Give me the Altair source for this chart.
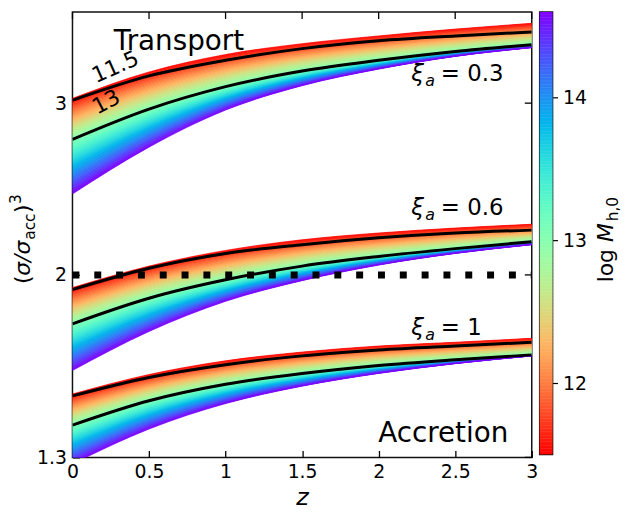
import altair as alt
import numpy as np
import pandas as pd

# ---------------- data ----------------
z = [0.0, 0.5, 1.0, 1.5, 2.0, 2.5, 3.0]

# xi_a = 0.3 : top edge (log M = 11.5 colour), black 11.5 line, black 13 line, bottom edge (log M ~ 14.6)
top_03 = [3.034, 3.229, 3.365, 3.452, 3.516, 3.573, 3.622]
m115_03 = [3.020, 3.199, 3.319, 3.412, 3.476, 3.516, 3.549]
m13_03 = [2.754, 2.958, 3.119, 3.236, 3.319, 3.389, 3.444]
bot_03 = [2.421, 2.704, 2.951, 3.126, 3.251, 3.350, 3.420]
# xi_a = 0.6
top_06 = [1.941, 2.042, 2.119, 2.173, 2.208, 2.234, 2.254]
m115_06 = [1.932, 2.032, 2.104, 2.148, 2.183, 2.208, 2.223]
m13_06 = [1.782, 1.893, 1.977, 2.042, 2.089, 2.128, 2.163]
bot_06 = [1.596, 1.750, 1.879, 1.973, 2.047, 2.104, 2.148]
# xi_a = 1
top_10 = [1.510, 1.581, 1.633, 1.667, 1.691, 1.706, 1.722]
m115_10 = [1.503, 1.570, 1.618, 1.652, 1.675, 1.691, 1.706]
m13_10 = [1.403, 1.486, 1.545, 1.585, 1.615, 1.637, 1.656]
bot_10 = [1.280, 1.390, 1.476, 1.538, 1.585, 1.622, 1.652]

# colour bar range (log M_h,0)
M_LO, M_MID, M_HI = 11.5, 13.0, 14.6
cbar_ticks = [12, 13, 14]

x_ticks = [0, 0.5, 1, 1.5, 2, 2.5, 3]
y_ticks = [1.3, 2, 3]
y_domain = [1.3, 3.72]
ref_level = 2.0

# annotations (data coordinates)
note_text = ["Transport", "Accretion"]
note_z = [0.27, 2.847]
note_v = [3.404, 1.349]
xi_vals = ["0.3", "0.6", "1"]
xi_z = [2.406, 2.406, 2.406]
xi_v = [3.163, 2.302, 1.734]
mass_text = ["11.5", "13"]
mass_z = [0.28, 0.22]
mass_v = [3.266, 3.007]
mass_angle = [336, 332]
ytitle_z = -0.275
ytitle_v = 2.168
ctitle_m = 13.12

FONT = "DejaVu Sans"
W, H = 463, 449
TICK = 7


def rainbow_r(m):
    x = 1.0 - (m - M_LO) / (M_HI - M_LO)
    r = min(1.0, max(0.0, abs(2 * x - 0.5)))
    g = min(1.0, max(0.0, np.sin(np.pi * x)))
    b = min(1.0, max(0.0, np.cos(np.pi * x / 2)))
    return "#%02x%02x%02x" % (int(round(r * 255)), int(round(g * 255)), int(round(b * 255)))


def level(top, mid, bot, m):
    out = []
    for a, b, c in zip(top, mid, bot):
        la, lb, lc = np.log10(a), np.log10(b), np.log10(c)
        if m <= M_MID:
            l = la + (m - M_LO) / (M_MID - M_LO) * (lb - la)
        else:
            l = lb + (m - M_MID) / (M_HI - M_MID) * (lc - lb)
        out.append(10 ** l)
    return out


bands = [("b03", top_03, m13_03, bot_03), ("b06", top_06, m13_06, bot_06), ("b10", top_10, m13_10, bot_10)]
nlev = 63
mlev = [M_LO + (M_HI - M_LO) * i / (nlev - 1) for i in range(nlev)]
rows = []
for name, tp, md, bt in bands:
    levs = [level(tp, md, bt, m) for m in mlev]
    for i in range(nlev - 1):
        col = rainbow_r(0.5 * (mlev[i] + mlev[i + 1]))
        for j, zz in enumerate(z):
            rows.append({"z": zz, "v": levs[i][j], "v2": levs[i + 1][j], "col": col, "sid": f"{name}_{i:03d}"})
stripes = pd.DataFrame(rows)

lrows = []
for name, arr in [("a03", m115_03), ("c03", m13_03), ("a06", m115_06), ("c06", m13_06), ("a10", m115_10), ("c10", m13_10)]:
    for zz, vv in zip(z, arr):
        lrows.append({"z": zz, "v": vv, "lid": name})
blines = pd.DataFrame(lrows)

# ---------------- scales / axes ----------------
XS = alt.Scale(domain=[0, 3], nice=False, zero=False)
YS = alt.Scale(type="log", domain=y_domain, nice=False)
common_axis = dict(grid=False, domain=False, ticks=True, tickSize=TICK, offset=-TICK, tickColor="black",
                   tickWidth=1.3, labelFont=FONT, labelFontSize=19, labelColor="black", labelFlush=False,
                   minExtent=0)
xaxis = alt.Axis(orient="bottom", values=x_ticks, format="~g", labelPadding=5, title="z",
                 titleFont=FONT, titleFontSize=24, titleFontStyle="italic", titleFontWeight="normal",
                 titleColor="black", titlePadding=4, **common_axis)
yaxis = alt.Axis(orient="left", values=y_ticks, format="~g", labelPadding=6, title=None, **common_axis)


def X(f="z"):
    return alt.X(f"{f}:Q", scale=XS, axis=xaxis)


def Y(f="v"):
    return alt.Y(f"{f}:Q", scale=YS, axis=yaxis)


area = alt.Chart(stripes).mark_area(interpolate="monotone", clip=True, strokeWidth=0.7, opacity=1).encode(
    x=X(), y=Y(), y2=alt.Y2("v2:Q"),
    color=alt.Color("col:N", scale=None), stroke=alt.Stroke("col:N", scale=None), detail="sid:N")

lines = alt.Chart(blines).mark_line(interpolate="monotone", clip=True, color="black", strokeWidth=3).encode(
    x=X(), y=Y(), detail="lid:N")

dotted = alt.Chart(pd.DataFrame({"z": [0.0], "z2": [3.0], "v": [ref_level]})).mark_rule(
    color="black", strokeWidth=7, strokeDash=[7, 15], strokeCap="butt").encode(x=X(), x2="z2:Q", y=Y())

# inward ticks on the top and right frame edges
top_ticks = alt.Chart(pd.DataFrame({"z": x_ticks})).mark_rule(color="black", strokeWidth=1.3).encode(
    x=X(), y=alt.value(0), y2=alt.value(TICK))
right_ticks = alt.Chart(pd.DataFrame({"v": y_ticks})).mark_rule(color="black", strokeWidth=1.3).encode(
    y=Y(), x=alt.value(W - TICK), x2=alt.value(W))


def text_layer(df, **kw):
    base = dict(font=FONT, color="black", baseline="alphabetic")
    base.update(kw)
    return alt.Chart(df).mark_text(**base).encode(x=X(), y=Y(), text="t:N")


notes = text_layer(pd.DataFrame({"z": note_z[:1], "v": note_v[:1], "t": note_text[:1]}), fontSize=28, align="left")
notes2 = text_layer(pd.DataFrame({"z": note_z[1:], "v": note_v[1:], "t": note_text[1:]}), fontSize=28, align="right")

xi_df = pd.DataFrame({"z": xi_z, "v": xi_v, "t": ["= " + s for s in xi_vals]})
xi_eq = text_layer(xi_df, fontSize=23, align="left")
xi_sym = text_layer(pd.DataFrame({"z": xi_z, "v": xi_v, "t": ["ξ"] * 3}), fontSize=23, align="right",
                    fontStyle="italic", dx=-17)
xi_sub = text_layer(pd.DataFrame({"z": xi_z, "v": xi_v, "t": ["a"] * 3}), fontSize=16, align="right",
                    fontStyle="italic", dx=-6, dy=5)

mass_layers = [text_layer(pd.DataFrame({"z": [mass_z[i]], "v": [mass_v[i]], "t": [mass_text[i]]}),
                          fontSize=22, align="center", baseline="middle", angle=mass_angle[i])
               for i in range(len(mass_text))]

yt = pd.DataFrame({"z": [ytitle_z], "v": [ytitle_v]})
yt_a = text_layer(yt.assign(t="σ/σ"), fontSize=22, angle=270, align="right", fontStyle="italic")
yt_p = text_layer(yt.assign(t="("), fontSize=22, angle=270, align="right", dx=-35)
yt_s = text_layer(yt.assign(t="acc"), fontSize=15.5, angle=270, align="left", dx=1, dy=5)
yt_c = text_layer(yt.assign(t=")"), fontSize=22, angle=270, align="left", dx=28)
yt_e = text_layer(yt.assign(t="3"), fontSize=15.5, angle=270, align="left", dx=37, dy=-9)

plot = alt.layer(area, lines, dotted, top_ticks, right_ticks, notes, notes2, xi_eq, xi_sym, xi_sub,
                 *mass_layers, yt_a, yt_p, yt_s, yt_c, yt_e).properties(width=W, height=H)

# ---------------- colour bar ----------------
ncb = 310
cb_m = [M_LO + (M_HI - M_LO) * i / ncb for i in range(ncb + 1)]
cb = pd.DataFrame({"m0": cb_m[:-1], "m1": [min(M_HI, mm + (M_HI - M_LO) / ncb * 1.3) for mm in cb_m[:-1]],
                   "col": [rainbow_r(mm + 0.5 * (M_HI - M_LO) / ncb) for mm in cb_m[:-1]]})
CS = alt.Scale(domain=[M_LO, M_HI], nice=False, zero=False)
caxis = alt.Axis(orient="right", values=cbar_ticks, format="d", grid=False, domain=False, tickSize=5,
                 tickColor="black", tickWidth=1.2, labelFont=FONT, labelFontSize=19, labelColor="black",
                 labelPadding=5, labelFlush=False, title=None, minExtent=0)
cbar_rect = alt.Chart(cb).mark_rect().encode(
    x=alt.value(0), x2=alt.value("width"),
    y=alt.Y("m0:Q", scale=CS, axis=caxis), y2="m1:Q",
    color=alt.Color("col:N", scale=None))


def ctext(t, **kw):
    base = dict(font=FONT, color="black", baseline="alphabetic", angle=270)
    base.update(kw)
    return alt.Chart(pd.DataFrame({"m0": [ctitle_m], "t": [t]})).mark_text(**base).encode(
        x=alt.value(74), y=alt.Y("m0:Q", scale=CS, axis=caxis), text="t:N")


cbar = alt.layer(cbar_rect,
                 ctext("M", fontSize=22, align="right", fontStyle="italic"),
                 ctext("log", fontSize=22, align="right", dx=-26),
                 ctext("h,0", fontSize=15.5, align="left", dx=2, dy=5)).properties(width=13, height=H - 3)

chart = alt.hconcat(plot, cbar, spacing=0).properties(
    padding={"left": 0, "top": 0, "right": 0, "bottom": 0}).configure_view(
    stroke="#111111", strokeWidth=1.5)

chart.save("out.html", embed_options={"renderer": "svg", "actions": False})
